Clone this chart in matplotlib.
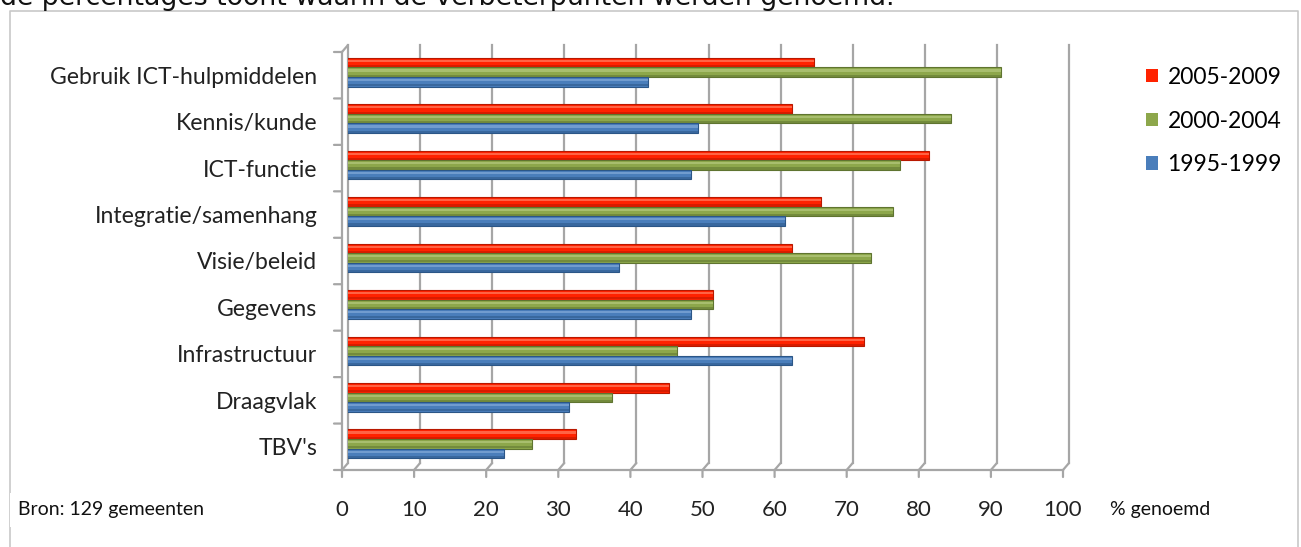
import matplotlib
matplotlib.use("Agg")
import matplotlib.pyplot as plt
from matplotlib.transforms import ScaledTranslation
from matplotlib.lines import Line2D
from matplotlib.patches import Patch
import numpy as np

categories = ["TBV's", "Draagvlak", "Infrastructuur", "Gegevens", "Visie/beleid",
              "Integratie/samenhang", "ICT-functie", "Kennis/kunde", "Gebruik ICT-hulpmiddelen"]
s_1995_1999 = [22, 31, 62, 48, 38, 61, 48, 49, 42]
s_2000_2004 = [26, 37, 46, 51, 73, 76, 77, 84, 91]
s_2005_2009 = [32, 45, 72, 51, 62, 66, 81, 62, 65]
series_labels = ["1995-1999", "2000-2004", "2005-2009"]
xticks = list(range(0, 101, 10))

W, H, DPI = 1301, 547, 100
fig = plt.figure(figsize=(W / DPI, H / DPI), dpi=DPI)
fig.patch.set_facecolor("white")
FONT = "Lato"

# back plane of the pseudo-3D chart
ax = fig.add_axes([348 / W, 84 / H, 721 / W, 418 / H])
ax.set_xlim(0, 100)
ax.set_ylim(-0.5, 8.5)
for s in ax.spines.values():
    s.set_visible(False)
ax.patch.set_alpha(0)

def px(dx, dy):
    return ScaledTranslation(dx / DPI, dy / DPI, fig.dpi_scale_trans)

front = ax.transData + px(-6, -7)
grid_c = "#A6A6A6"
glw = 1.6

def seg(p0, t0, p1, t1):
    ax.annotate("", xy=p1, xycoords=t1, xytext=p0, textcoords=t0,
                arrowprops=dict(arrowstyle="-", color=grid_c, lw=glw, shrinkA=0, shrinkB=0))

# back gridlines, floor diagonals, front ticks
for v in xticks:
    ax.plot([v, v], [-0.5, 8.5], color=grid_c, lw=glw, zorder=1, clip_on=False)
    seg((v, -0.5), ax.transData, (v, -0.5), front)
    seg((v, -0.5), front, (v, -0.5), front + px(0, -7))
# front bottom axis line
ax.add_line(Line2D([0, 100], [-0.5, -0.5], color=grid_c, lw=glw, clip_on=False, transform=front))
# left wall: front vertical, top diagonal, category ticks
ax.add_line(Line2D([0, 0], [-0.5, 8.5], color=grid_c, lw=glw, clip_on=False, transform=front))
seg((0, 8.5), ax.transData, (0, 8.5), front)
for yb in np.arange(-0.5, 9.0, 1.0):
    seg((0, yb), front, (0, yb), front + px(-8, 0))

# bars (mid-depth)
y = np.arange(len(categories))
bh = 0.205
bar_tr = ax.transData + px(-3, -4)
specs = [
    (s_2005_2009, +bh, "#FF2200", "#FF7a5c", "#B81800"),
    (s_2000_2004, 0.0, "#8DA74B", "#B2C77A", "#5F7430"),
    (s_1995_1999, -bh, "#4A7EBB", "#7FA7D6", "#2B5687"),
]
for vals, off, c, light, dark in specs:
    ax.barh(y + off, vals, height=bh, color=c, edgecolor=dark, linewidth=0.8,
            transform=bar_tr, zorder=3)
    ax.barh(y + off + bh * 0.18, vals, height=bh * 0.22, color=light, linewidth=0,
            transform=bar_tr, zorder=4, alpha=0.75)
    ax.barh(y + off - bh * 0.36, vals, height=bh * 0.22, color=dark, linewidth=0,
            transform=bar_tr, zorder=4, alpha=0.55)

# ticks and labels
ax.set_xticks(xticks)
ax.set_xticklabels([str(v) for v in xticks], fontname=FONT, fontsize=16, color="#222222")
ax.tick_params(axis="x", length=0, pad=27)
for lab in ax.get_xticklabels():
    lab.set_transform(lab.get_transform() + px(-6, 0))
ax.set_yticks(y)
ax.set_yticklabels(categories, fontname=FONT, fontsize=16.6, color="#222222")
ax.tick_params(axis="y", length=0, pad=22)
for lab in ax.get_yticklabels():
    lab.set_transform(lab.get_transform() + px(0, -7))

# legend
handles = [Patch(facecolor="#FF2200", edgecolor="none"),
           Patch(facecolor="#8DA74B", edgecolor="none"),
           Patch(facecolor="#4A7EBB", edgecolor="none")]
fig.legend(handles, ["2005-2009", "2000-2004", "1995-1999"],
           loc="upper left", bbox_to_anchor=(1125 / W, 1 - 46 / H), frameon=False,
           handlelength=0.55, handleheight=0.55, handletextpad=0.4, labelspacing=1.0,
           prop={"family": FONT, "size": 16.5})

fig.text(18 / W, 1 - 510 / H, "Bron: 129 gemeenten", fontname=FONT, fontsize=14,
         va="center", ha="left", color="#111111",
         bbox=dict(facecolor="white", edgecolor="none", pad=6))
fig.text(1110 / W, 1 - 510 / H, "% genoemd", fontname=FONT, fontsize=14,
         va="center", ha="left", color="#111111")

# chart border
border_c = "#C8C8C8"
fig.add_artist(Line2D([10 / W, 10 / W, 1298 / W, 1298 / W],
                      [0, 1 - 10.5 / H, 1 - 10.5 / H, 0],
                      transform=fig.transFigure, color=border_c, lw=1.2, zorder=0))

# cut-off text line above the chart
fig.text(0 / W, 1 - 5 / H, "de percentages toont waarin de verbeterpunten werden genoemd.",
         fontname="DejaVu Sans", fontsize=19.3, va="baseline", ha="left", color="#111111")

fig.savefig("out.png", dpi=DPI, facecolor="white")
